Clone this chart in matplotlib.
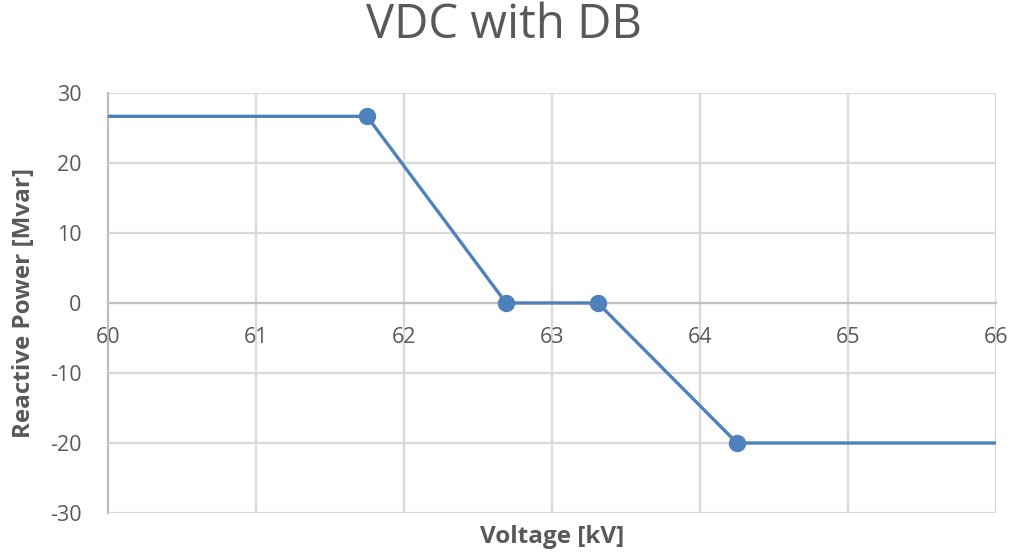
import matplotlib.pyplot as plt

# data
voltage = [60, 61.75, 62.69, 63.31, 64.25, 66]
q_mvar = [26.67, 26.67, 0, 0, -20, -20]
x_ticks = [60, 61, 62, 63, 64, 65, 66]
y_ticks = [-30, -20, -10, 0, 10, 20, 30]

plt.rcParams['font.family'] = ['Open Sans', 'DejaVu Sans']
plt.rcParams['axes.unicode_minus'] = False
txt = '#595959'
grid = '#d9d9d9'
axc = '#bfbfbf'

fig = plt.figure(figsize=(10.13, 5.55), dpi=100)
ax = fig.add_axes([0.1066, 0.0757, 0.8766, 0.7567])

ax.plot(voltage, q_mvar, color='#4f81bd', lw=2.4, marker='o', ms=11.5,
        markevery=[1, 2, 3, 4], zorder=3, solid_joinstyle='round')

ax.set_xlim(60, 66)
ax.set_ylim(-30, 30)
ax.set_xticks(x_ticks)
ax.set_yticks(y_ticks)
ax.grid(True, color=grid, lw=1.6)
ax.set_axisbelow(True)

for s in ['top', 'right']:
    ax.spines[s].set_visible(False)
ax.spines['left'].set_color(axc)
ax.spines['left'].set_linewidth(1.6)
ax.spines['bottom'].set_position(('data', 0))
ax.spines['bottom'].set_color(axc)
ax.spines['bottom'].set_linewidth(1.6)

ax.tick_params(length=0, labelsize=15.5, labelcolor=txt)
ax.tick_params(axis='x', pad=17)
ax.tick_params(axis='y', pad=19)

ax.set_xlabel('Voltage [kV]', fontsize=17.5, fontweight='bold', color=txt)
ax.xaxis.set_label_coords(0.5, -0.028)
ax.set_ylabel('Reactive Power [Mvar]', fontsize=17.5, fontweight='bold', color=txt)
ax.yaxis.set_label_coords(-0.081, 0.5)

fig.text(0.497, 0.955, 'VDC with DB', fontsize=34, color=txt,
         ha='center', va='center')

fig.savefig('out.png', dpi=100)
